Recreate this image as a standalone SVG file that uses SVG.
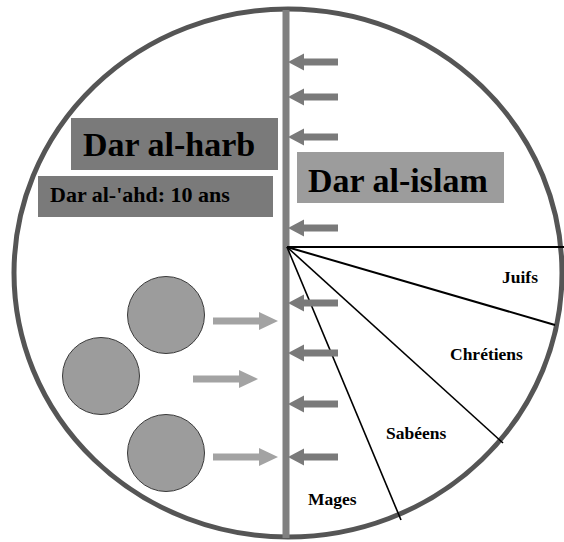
<svg xmlns="http://www.w3.org/2000/svg" width="564" height="542" viewBox="0 0 564 542">
<style>
.lbl{font-family:"Liberation Serif","Times New Roman",serif;font-weight:bold;fill:#000}
.big{font-size:34px}
.mid{font-size:22px}
.sm{font-size:17.5px}
.fan{stroke:#000;fill:none}
.ball{fill:#9c9c9c;stroke:#3a3a3a;stroke-width:1}
.inArrow{fill:#7a7a7a}
.outArrow{fill:#a3a3a3}
</style>
<defs>
<polygon id="la" points="0,0 16,-8.5 16,-3.5 50,-3.5 50,3.5 16,3.5 16,8.5"/>
<polygon id="ra" points="0,0 -19,-9 -19,-3.5 -65,-3.5 -65,3.5 -19,3.5 -19,9"/>
</defs>
<rect width="564" height="542" fill="#fff"/>
<g id="world">
<ellipse cx="288" cy="273" rx="274" ry="264" fill="none" stroke="#555" stroke-width="5"/>
<line x1="286" y1="10" x2="286" y2="538" stroke="#808080" stroke-width="7"/>
</g>
<g id="fan">
<line class="fan" x1="287" y1="247" x2="564" y2="247" stroke-width="2"/>
<line class="fan" x1="287" y1="247" x2="555" y2="325" stroke-width="2"/>
<line class="fan" x1="287" y1="247" x2="503" y2="443" stroke-width="1.6"/>
<line class="fan" x1="287" y1="247" x2="401" y2="520" stroke-width="1.6"/>
</g>
<g id="dar-al-harb">
<rect x="71" y="118" width="207" height="52" fill="#7a7a7a"/>
<text class="lbl big" x="83" y="156">Dar al-harb</text>
</g>
<g id="dar-al-ahd">
<rect x="38" y="176" width="235" height="41" fill="#7a7a7a"/>
<text class="lbl mid" x="50" y="202">Dar al-'ahd: 10 ans</text>
</g>
<g id="dar-al-islam">
<rect x="297" y="152" width="207" height="51" fill="#9c9c9c"/>
<text class="lbl big" x="308" y="192">Dar al-islam</text>
</g>
<g id="juifs"><text class="lbl sm" x="502" y="283">Juifs</text></g>
<g id="chretiens"><text class="lbl sm" x="450" y="360">Chrétiens</text></g>
<g id="sabeens"><text class="lbl sm" x="386" y="439">Sabéens</text></g>
<g id="mages"><text class="lbl sm" x="308" y="505">Mages</text></g>
<g id="ball1"><circle class="ball" cx="166" cy="315" r="38.5"/></g>
<g id="ball2"><circle class="ball" cx="101" cy="376" r="38.5"/></g>
<g id="ball3"><circle class="ball" cx="166" cy="453" r="38.5"/></g>
<g id="connectors">
<use href="#la" class="inArrow" x="288" y="62"/>
<use href="#la" class="inArrow" x="288" y="97"/>
<use href="#la" class="inArrow" x="288" y="137"/>
<use href="#la" class="inArrow" x="288" y="228"/>
<use href="#la" class="inArrow" x="288" y="303"/>
<use href="#la" class="inArrow" x="288" y="353"/>
<use href="#la" class="inArrow" x="288" y="404"/>
<use href="#la" class="inArrow" x="288" y="457"/>
<use href="#ra" class="outArrow" x="278" y="321"/>
<use href="#ra" class="outArrow" x="258" y="379"/>
<use href="#ra" class="outArrow" x="278" y="457"/>
</g>
</svg>
